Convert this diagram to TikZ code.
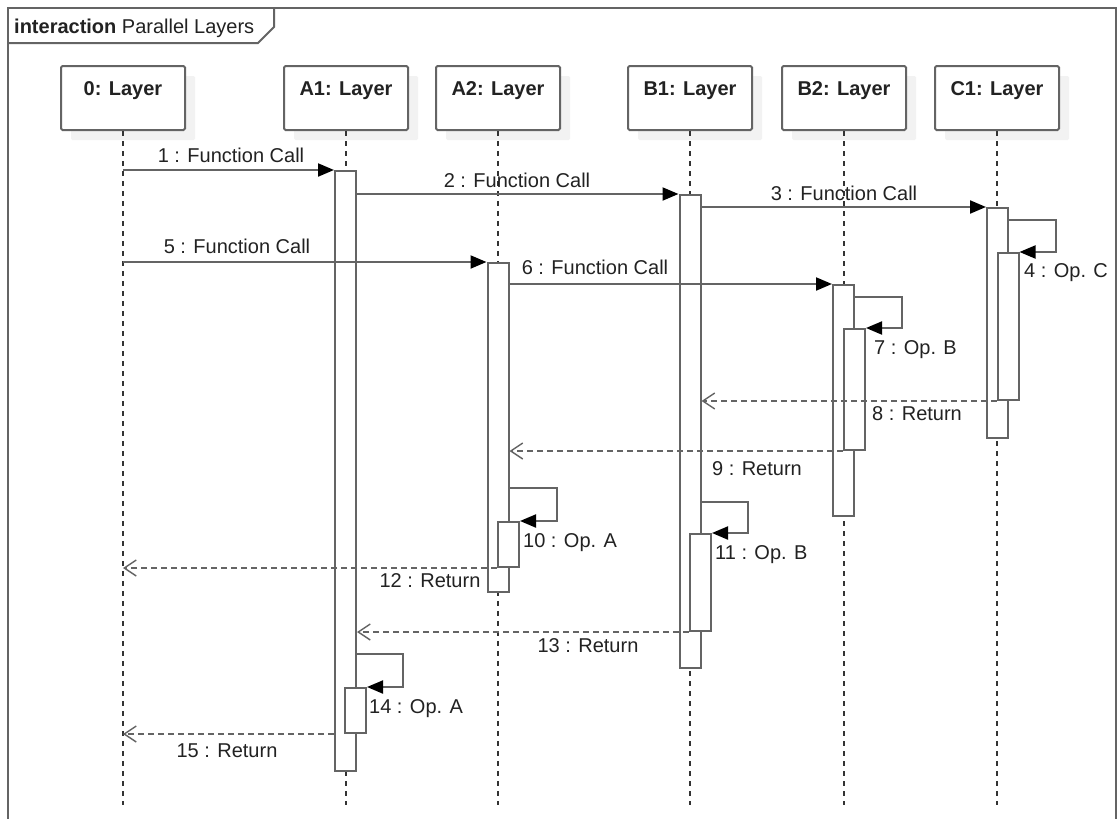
\documentclass[tikz,border=0pt]{standalone}
\usepackage{fontspec}
\setmainfont{Liberation Sans}
\usetikzlibrary{arrows.meta}
\definecolor{ln}{HTML}{646464}
\definecolor{tx}{HTML}{222222}
\begin{document}
\begin{tikzpicture}[x=1pt,y=-1pt,
  every node/.style={font=\fontsize{20}{24}\selectfont, text=tx},
  hdr/.style={draw=ln, line width=2pt, fill=white, rounded corners=1.5pt,
    minimum width=124pt, minimum height=64pt, inner sep=0pt,
    text height=14pt, text depth=20pt,
    font=\fontsize{20}{24}\selectfont\bfseries, anchor=north,
    preaction={fill=black!5, draw=none, transform canvas={xshift=10pt,yshift=-10pt}}},
  life/.style={draw=black!80, line width=1.5pt, dash pattern=on 5pt off 5pt},
  bar/.style={draw=ln, line width=2pt, fill=white, minimum width=21pt, inner sep=0pt, anchor=north},
  call/.style={draw=ln, line width=2pt, -{Triangle[length=16pt,width=13pt,color=black]}},
  self/.style={draw=ln, line width=2pt, -{Triangle[length=16pt,width=13pt,color=black]}},
  ret/.style={draw=ln, line width=2pt, dash pattern=on 6pt off 4pt,
    -{Straight Barb[length=12pt,width=16pt,line width=1.4pt]}},
  lbl/.style={inner sep=0pt, anchor=base},
  lbll/.style={inner sep=0pt, anchor=base west},
  frm/.style={draw=ln, line width=2pt}
  ]
\fill[white] (0,0) rectangle (1120,819);
\useasboundingbox (0,0) rectangle (1120,819);

% frame
\draw[frm] (8,819) -- (8,8) -- (1116,8) -- (1116,819);
\draw[frm] (8,43) -- (258,43) -- (274,27) -- (274,8);
\node[lbll] (ftitle) at (14,33) {\textbf{interaction} Parallel Layers};

% headers
\node[hdr] (h0) at (123,65) {0: Layer};
\node[hdr] (hA1) at (346,65) {A1: Layer};
\node[hdr] (hA2) at (498,65) {A2: Layer};
\node[hdr] (hB1) at (690,65) {B1: Layer};
\node[hdr] (hB2) at (844,65) {B2: Layer};
\node[hdr] (hC1) at (997,65) {C1: Layer};

% lifeline ends
\coordinate (e0) at (123,805);
\coordinate (eA1) at (346,805);
\coordinate (eA2) at (498,805);
\coordinate (eB1) at (690,805);
\coordinate (eB2) at (844,805);
\coordinate (eC1) at (997,805);
\draw[life] (h0.south) -- (e0);
\draw[life] (hA1.south) -- (eA1);
\draw[life] (hA2.south) -- (eA2);
\draw[life] (hB1.south) -- (eB1);
\draw[life] (hB2.south) -- (eB2);
\draw[life] (hC1.south) -- (eC1);

% activation bars
\node[bar, minimum height=600pt] (A1a) at (345.5,170) {};
\node[bar, minimum height=329pt] (A2a) at (498,262) {};
\node[bar, minimum height=473pt] (B1a) at (690,194) {};
\node[bar, minimum height=231pt] (B2a) at (843.5,284) {};
\node[bar, minimum height=230pt] (C1a) at (997.5,207) {};
\node[bar, minimum height=147pt] (C1b) at (1008,252) {};
\node[bar, minimum height=121pt] (B2b) at (854.5,328) {};
\node[bar, minimum height=45pt] (A2b) at (508.5,521) {};
\node[bar, minimum height=97pt] (B1b) at (700.5,533) {};
\node[bar, minimum height=45pt] (A1b) at (355.5,687) {};

% calls
\draw[call] (h0 |- A1a.north) -- (A1a.north west);
\node[lbl] (m1) at (231,162) {1 : Function Call};
\draw[call] (A1a.east |- B1a.north) -- (B1a.north west);
\node[lbl] (m2) at (517,187) {2 : Function Call};
\draw[call] (B1a.east |- C1a.north) -- (C1a.north west);
\node[lbl] (m3) at (844,200) {3 : Function Call};
\draw[call] (h0 |- A2a.north) -- (A2a.north west);
\node[lbl] (m5) at (237,253) {5 : Function Call};
\draw[call] (A2a.east |- B2a.north) -- (B2a.north west);
\node[lbl] (m6) at (595,274) {6 : Function Call};

% self calls
\draw[self] (C1a.east |- 0,220) -- (1056,220) -- (1056,252) -- (C1b.north east);
\node[lbll] (m4) at (1024,277) {4 : Op. C};
\draw[self] (B2a.east |- 0,297) -- (902,297) -- (902,328) -- (B2b.north east);
\node[lbll] (m7) at (874,354) {7 : Op. B};
\draw[self] (A2a.east |- 0,488) -- (557,488) -- (557,521) -- (A2b.north east);
\node[lbll] (m10) at (523,547) {10 : Op. A};
\draw[self] (B1a.east |- 0,502) -- (748,502) -- (748,533) -- (B1b.north east);
\node[lbll] (m11) at (715,559) {11 : Op. B};
\draw[self] (A1a.east |- 0,654) -- (403,654) -- (403,687) -- (A1b.north east);
\node[lbll] (m14) at (369,713) {14 : Op. A};

% returns
\draw[ret] (C1b.south west) -- (B1a.east |- C1b.south);
\node[lbl] (m8) at (917,420) {8 : Return};
\draw[ret] (B2b.south west) -- (A2a.east |- B2b.south);
\node[lbl] (m9) at (757,475) {9 : Return};
\draw[ret] (A2b.south west) -- (h0 |- A2b.south);
\node[lbl] (m12) at (430,587) {12 : Return};
\draw[ret] (B1b.south west) -- (A1a.east |- B1b.south);
\node[lbl] (m13) at (588,652) {13 : Return};
\draw[ret] (A1b.south west -| A1a.west) -- (h0 |- A1b.south);
\node[lbl] (m15) at (227,757) {15 : Return};
\end{tikzpicture}
\end{document}
